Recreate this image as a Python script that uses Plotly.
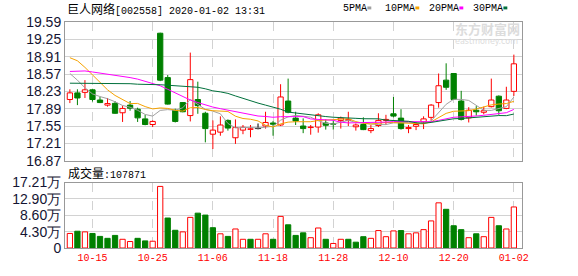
import plotly.graph_objects as go

# ---------------- data ----------------
dates = ["10-10","10-11","10-14","10-15","10-16","10-17","10-18","10-21","10-22","10-23","10-24","10-25",
         "10-28","10-29","10-30","10-31","11-01","11-04","11-05","11-06",
         "11-07","11-08","11-11","11-12","11-13","11-14","11-15","11-18",
         "11-19","11-20","11-21","11-22","11-25","11-26","11-27","11-28",
         "11-29","12-02","12-03","12-04","12-05","12-06","12-09","12-10",
         "12-11","12-12","12-13","12-16","12-17","12-18","12-19","12-20",
         "12-23","12-24","12-25","12-26","12-27","12-30","12-31","01-02"]

opens = [18.07,18.20,18.21,18.26,18.06,17.96,17.995,17.81,17.96,17.88,17.69,17.58,
         19.37,18.50,17.86,18.01,17.755,18.07,17.80,17.39,
         17.43,17.66,17.32,17.47,17.485,17.50,17.55,17.61,
         17.57,18.04,17.705,17.55,17.52,17.53,17.61,17.60,
         17.66,17.66,17.535,17.58,17.46,17.56,17.66,17.79,
         17.705,17.50,17.545,17.63,17.72,18.01,18.45,18.58,
         18.04,17.71,17.86,17.82,17.93,18.135,17.895,18.23]
highs = [18.27,18.27,18.45,18.28,18.12,18.10,18.04,17.95,18.04,17.91,17.77,17.66,
         19.38,18.55,17.89,18.02,18.99,18.42,17.83,17.66,
         17.74,17.68,17.68,17.57,17.57,17.60,17.83,17.65,
         18.37,18.48,17.83,17.70,17.57,17.80,17.68,17.66,
         17.735,17.83,17.60,17.72,17.57,17.80,17.77,18.12,
         17.88,17.57,17.63,17.74,17.98,18.58,18.78,18.59,
         18.24,17.92,17.94,17.93,18.48,18.15,18.32,18.95]
lows = [18.00,17.96,18.10,18.03,18.00,17.93,17.79,17.63,17.85,17.63,17.565,17.53,
        18.43,17.97,17.62,17.82,17.64,17.79,17.23,17.10,
        17.36,17.46,17.20,17.39,17.33,17.485,17.50,17.36,
        17.55,17.80,17.57,17.41,17.38,17.42,17.48,17.48,
        17.50,17.55,17.46,17.47,17.41,17.53,17.57,17.72,
        17.48,17.41,17.47,17.49,17.66,17.91,18.26,18.06,
        17.66,17.62,17.755,17.78,17.915,17.77,17.88,18.14]
closes = [18.20,18.10,18.26,18.07,18.01,17.99,17.80,17.895,17.90,17.71,17.58,17.64,
          18.45,17.98,17.64,17.83,18.46,17.95,17.50,17.47,
          17.57,17.51,17.52,17.525,17.495,17.50,17.62,17.585,
          18.12,17.82,17.65,17.50,17.53,17.77,17.565,17.585,
          17.705,17.68,17.57,17.48,17.50,17.66,17.68,17.745,
          17.50,17.52,17.58,17.69,17.96,18.34,18.31,18.07,
          17.68,17.86,17.83,17.85,18.06,17.85,18.06,18.77]

# volume in 万 (10k lots)
volumes = [3.82,4.41,4.24,3.82,3.05,2.54,3.31,2.29,1.70,2.54,1.87,1.78,
           16.19,7.88,4.66,4.24,8.05,9.16,8.65,5.34,
           3.73,3.05,5.00,2.29,2.29,2.29,3.73,2.29,
           8.31,6.10,3.31,3.98,2.71,5.26,2.29,1.19,
           2.29,2.29,1.53,2.97,2.54,4.58,2.97,4.49,
           4.58,3.73,3.98,4.83,7.12,11.87,10.17,5.85,
           4.83,2.71,3.73,2.97,8.05,5.85,5.00,10.7871]

# moving-average values before enough visible closes exist
ma5_head = [18.58,18.45,18.30,18.18]
ma10_head = [18.89,18.83,18.70,18.55,18.39,18.26,18.15,18.07,17.99]
ma20_head = [18.62,18.62,18.63,18.61,18.59,18.57,18.55,18.53,18.50,18.47,18.43,18.39,
             18.34,18.27,18.20,18.13,18.06,18.01,17.96]
ma30_head = [18.39,18.39,18.39,18.39,18.39,18.38,18.38,18.38,18.38,18.37,18.37,18.37,
             18.36,18.35,18.34,18.33,18.32,18.31,18.28,18.24,18.22,18.19,18.14,18.09,
             18.04,18.00,17.96,17.92,17.88]

tick_labels = ["10-15","10-25","11-06","11-18","11-28","12-10","12-20","01-02"]
price_ticks = [16.87,17.21,17.55,17.89,18.23,18.57,18.91,19.25,19.59]
vol_ticks = [0,4.30,8.60,12.90,17.21]
vol_tick_text = ["0","4.30万","8.60万","12.90万","17.21万"]
last_volume = "107871"

# ---------------- styling ----------------
W, H = 578, 276
ML, MR, MT, MB = 55, 56, 22, 21
PW, PH = W - ML - MR, H - MT - MB
RED, GREEN, BLACK = "#ff0000", "#008000", "#000000"
GRID = "#d2d2d2"
FRAME = "#999999"
TICKFONT = "Liberation Sans Narrow, Arial Narrow, Liberation Sans, Arial"
MONO = "Liberation Mono, DejaVu Sans Mono, monospace"
CJK = "Noto Sans CJK SC, sans-serif"


def px_x(px):
    return (px - ML) / PW


def px_y(py):
    return (H - MB - py) / PH


n = len(dates)
idx = list(range(n))


def sma(vals, w, head):
    out = []
    for i in range(len(vals)):
        if i < w - 1:
            out.append(head[i])
        else:
            out.append(sum(vals[i - w + 1:i + 1]) / w)
    return out


ma5 = sma(closes, 5, ma5_head)
ma10 = sma(closes, 10, ma10_head)
ma20 = sma(closes, 20, ma20_head)
ma30 = sma(closes, 30, ma30_head)

fig = go.Figure()

# wicks & bodies grouped by colour
groups = {"up": ([], [], [], [], []), "down": ([], [], [], [], []), "flat": ([], [], [], [], [])}
for i in idx:
    o, h, l, c = opens[i], highs[i], lows[i], closes[i]
    key = "up" if c > o else ("down" if c < o else "flat")
    wx, wy, bx, bb, bh = groups[key]
    lo, hi = min(o, c), max(o, c)
    wx += [i, i, None, i, i, None]
    wy += [l, lo, None, hi, h, None]
    bx.append(i)
    bb.append(lo)
    bh.append(max(hi - lo, 0.006))

style = {"up": (RED, "#ffffff"), "down": (GREEN, GREEN), "flat": (BLACK, BLACK)}
for key, (wx, wy, bx, bb, bh) in groups.items():
    lc, fc = style[key]
    if not bx:
        continue
    fig.add_trace(go.Scatter(x=wx, y=wy, mode="lines", line=dict(color=lc, width=1),
                             xaxis="x2", yaxis="y2", hoverinfo="skip", showlegend=False))
    fig.add_trace(go.Bar(x=bx, y=bh, base=bb, width=0.7, marker=dict(color=fc, line=dict(color=lc, width=1)),
                         xaxis="x2", yaxis="y2", hoverinfo="skip", showlegend=False))

# moving averages
ma_colors = ["#a0a0a0", "#f5a200", "#ff00ff", "#00703c"]
for vals, col in zip([ma5, ma10, ma20, ma30], ma_colors):
    fig.add_trace(go.Scatter(x=idx, y=vals, mode="lines", line=dict(color=col, width=1),
                             xaxis="x2", yaxis="y2", hoverinfo="skip", showlegend=False))

# volume bars (colour by close vs previous close)
vx_up, vy_up, vx_dn, vy_dn = [], [], [], []
for i in idx:
    ref = opens[0] if i == 0 else closes[i - 1]
    if closes[i] >= ref:
        vx_up.append(i); vy_up.append(volumes[i])
    else:
        vx_dn.append(i); vy_dn.append(volumes[i])
fig.add_trace(go.Bar(x=vx_up, y=vy_up, width=0.7, marker=dict(color="#ffffff", line=dict(color=RED, width=1)),
                     xaxis="x", yaxis="y", hoverinfo="skip", showlegend=False))
fig.add_trace(go.Bar(x=vx_dn, y=vy_dn, width=0.7, marker=dict(color=GREEN, line=dict(color=GREEN, width=1)),
                     xaxis="x", yaxis="y", hoverinfo="skip", showlegend=False))

tickvals = [dates.index(t) for t in tick_labels]
xrange_ = [-0.65, n + 0.08]
common_x = dict(range=xrange_, showgrid=True, gridcolor=GRID, griddash="dash", gridwidth=1,
                zeroline=False, showline=True, linecolor=FRAME, linewidth=1, mirror=True,
                tickvals=tickvals, ticks="", fixedrange=True)

price_dom = [px_y(165), 1]
vol_dom = [0, px_y(187.5)]

fig.update_layout(
    width=W, height=H, margin=dict(l=ML, r=MR, t=MT, b=MB),
    paper_bgcolor="#ffffff", plot_bgcolor="#ffffff",
    barmode="overlay", showlegend=False,
    xaxis=dict(**common_x, anchor="y", ticktext=tick_labels,
               tickfont=dict(family=MONO, size=10, color=RED)),
    xaxis2=dict(**common_x, anchor="y2", matches="x", showticklabels=False),
    yaxis=dict(domain=vol_dom, range=[0, 17.21], tickvals=vol_ticks, ticktext=vol_tick_text,
               showgrid=True, gridcolor=GRID, zeroline=False, showline=True, linecolor=FRAME,
               mirror=True, ticks="", tickfont=dict(family=TICKFONT, size=14, color="#141433"),
               fixedrange=True),
    yaxis2=dict(domain=price_dom, range=[16.87, 19.59], tickvals=price_ticks,
                ticktext=[f"{v:.2f}" for v in price_ticks],
                showgrid=True, gridcolor=GRID, zeroline=False, showline=True, linecolor=FRAME,
                mirror=True, ticks="", tickfont=dict(family=TICKFONT, size=14, color="#141433"),
                fixedrange=True),
)

annotations = []


def label(px, py, text, **kw):
    annotations.append(dict(x=px_x(px), y=px_y(py), xref="paper", yref="paper", text=text,
                            showarrow=False, xanchor="left", yanchor="middle", **kw))


def cjk(s):
    return f'<span style="font-family:{CJK};font-size:12px">{s}</span>'


label(55, 8, cjk("巨人网络") + "[002558] 2020-01-02 13:31", font=dict(family=MONO, size=10, color="#000000"))
label(56, 177, cjk("成交量") + ":" + last_volume, font=dict(family=MONO, size=10, color="#000000"))

legend_items = [("5PMA", 338, ma_colors[0]), ("10PMA", 381, ma_colors[1]),
                ("20PMA", 426, ma_colors[2]), ("30PMA", 471, ma_colors[3])]
shapes = []
for txt, x0, col in legend_items:
    label(x0 - 1, 8, txt, font=dict(family=MONO, size=10, color="#000000"))
    sx = x0 + 6 * len(txt) + 2
    shapes.append(dict(type="rect", xref="paper", yref="paper", x0=px_x(sx), x1=px_x(sx + 4),
                       y0=px_y(9), y1=px_y(6), fillcolor=col, line=dict(width=0)))

# watermark
label(451, 29, "<b>东方财富网</b>", font=dict(family=CJK, size=13, color="#dcdcdc"))
label(451, 42, "eastmoney.com", font=dict(family="DejaVu Sans", size=8, color="#dcdcdc"))

fig.update_layout(annotations=annotations, shapes=shapes)

fig.write_html("out.html", config={"displayModeBar": False})
